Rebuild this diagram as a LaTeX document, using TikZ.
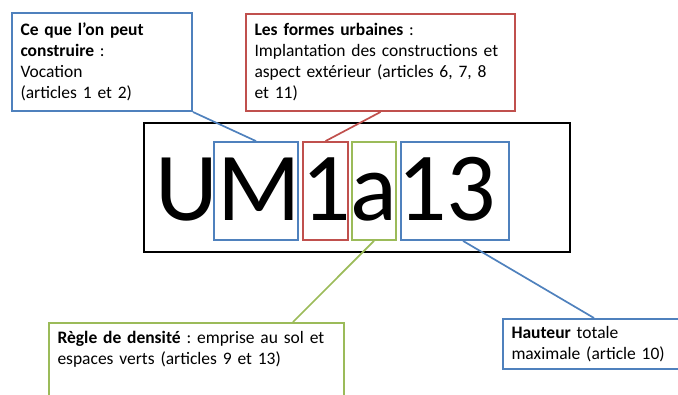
\documentclass[tikz,border=0pt]{standalone}
\usepackage{fontspec}
\setmainfont{Carlito}
\usetikzlibrary{calc,positioning}
\definecolor{wBlue}{HTML}{4F81BD}
\definecolor{wRed}{HTML}{C0504D}
\definecolor{wGreen}{HTML}{9BBB59}
\frenchspacing

\begin{document}
\begin{tikzpicture}[x=1pt, y=-1pt,
  every node/.style={font=\fontsize{17.5}{21}\selectfont},
  callout/.style={draw=#1, line width=2pt, align=left, anchor=north west, inner xsep=8.5pt, inner ysep=8pt},
  lettre/.style={draw=#1, line width=1.8pt, minimum height=98pt, inner sep=0pt},
  lien/.style={draw=#1, line width=1.7pt}]
\useasboundingbox (0,0) rectangle (678,394);
\clip (0,0) rectangle (678,394);
\node[draw, line width=2.6pt, minimum width=426pt, minimum height=129pt, inner sep=0pt] (code) at (357,187.5) {};
\node[anchor=base west, inner sep=0pt, font=\fontsize{97.5}{100}\selectfont] (sigle) at (155,220) {UM1a13};
\node[lettre=wBlue, minimum width=84pt] (boxM) at (256,191) {};
\node[lettre=wRed, minimum width=45pt] (box1) at (325.5,191) {};
\node[lettre=wGreen, minimum width=44pt] (boxa) at (374,191) {};
\node[lettre=wBlue, minimum width=108pt] (box13) at (455,191) {};
\node[callout=wBlue, text width=163pt, minimum height=98pt] (vocation) at (11,12) {\textbf{Ce que l’on peut}\\\textbf{construire} :\\Vocation\\(articles 1 et 2)};
\node[callout=wRed, text width=252pt, minimum height=97pt] (formes) at (245,13) {\textbf{Les formes urbaines} :\\Implantation des constructions et\\aspect extérieur (articles 6, 7, 8\\et 11)};
\node[callout=wGreen, text width=278pt, text depth=80pt] (densite) at (48,322) {\textbf{Règle de densité} : emprise au sol et\\espaces verts (articles 9 et 13)};
\node[callout=wBlue, text width=190pt, inner ysep=7pt] (hauteur) at (502,318) {\textbf{Hauteur} totale\\maximale (article 10)};
\coordinate (pDensite) at ($(densite.north west)+(245,0)$);
\coordinate (pHauteur) at ($(hauteur.north west)+(92,0)$);
\coordinate (p13) at ($(box13.south)+(8,0)$);
\draw[lien=wBlue] (vocation.south east) -- (boxM.north);\draw[lien=wRed] (formes.south) -- (box1.north);
\draw[lien=wGreen] (boxa.south) -- (pDensite);\draw[lien=wBlue] (p13) -- (pHauteur);
\end{tikzpicture}
\end{document}
